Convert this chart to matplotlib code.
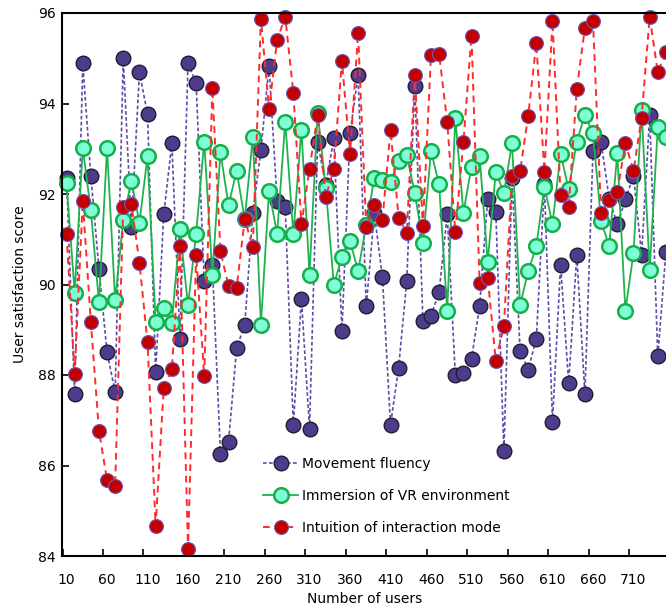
import matplotlib
matplotlib.use('Agg')
import matplotlib.pyplot as plt

plt.rcParams['font.family'] = 'DejaVu Sans'
plt.rcParams['font.size'] = 10

# number of users on each test round
users = list(range(10, 760, 10))

movement = [92.36, 87.57, 94.89, 92.40, 90.35, 88.50, 87.62, 95.00, 91.27, 94.69,
            93.76, 88.07, 91.55, 93.12, 88.80, 94.89, 94.45, 90.07, 90.44, 86.26,
            86.51, 88.60, 89.10, 91.59, 92.97, 94.83, 91.84, 91.71, 86.90, 89.68,
            86.81, 93.15, 92.19, 93.23, 88.97, 93.34, 94.63, 89.52, 91.57, 90.17,
            86.90, 88.16, 90.07, 94.39, 89.20, 89.31, 89.83, 91.55, 87.99, 88.05,
            88.36, 89.52, 91.90, 91.61, 86.31, 92.35, 88.54, 88.12, 88.80, 92.21,
            86.96, 90.44, 87.82, 90.66, 87.57, 92.95, 93.15, 91.90, 91.33, 91.88,
            92.40, 90.66, 93.74, 88.41, 90.72]

immersion = [92.25, 89.82, 93.01, 91.64, 89.61, 93.01, 89.65, 91.42, 92.29, 91.37,
             92.83, 89.17, 89.48, 89.15, 91.22, 89.54, 91.12, 93.16, 90.21, 92.92,
             91.75, 92.51, 91.44, 93.26, 89.11, 92.07, 91.12, 93.60, 91.11, 93.42,
             90.22, 93.80, 92.14, 90.00, 90.60, 90.96, 90.30, 91.31, 92.35, 92.31,
             92.27, 92.72, 92.86, 92.02, 90.92, 92.95, 92.21, 89.41, 93.69, 91.59,
             92.60, 92.84, 90.50, 92.49, 92.02, 93.12, 89.54, 90.30, 90.84, 92.16,
             91.34, 92.89, 92.10, 93.16, 93.75, 93.34, 91.40, 90.85, 92.90, 89.42,
             90.70, 93.85, 90.33, 93.48, 93.27]

intuition = [91.11, 88.02, 91.84, 89.17, 86.77, 85.68, 85.54, 91.72, 91.79, 90.48,
             88.72, 84.67, 87.71, 88.13, 90.85, 84.15, 90.66, 87.97, 94.34, 90.74,
             89.96, 89.93, 91.44, 90.83, 95.87, 93.87, 95.40, 95.92, 94.24, 91.33,
             92.56, 93.74, 91.94, 92.55, 94.94, 92.88, 95.56, 91.27, 91.75, 91.42,
             93.41, 91.48, 91.14, 94.63, 91.29, 95.08, 95.09, 93.59, 91.16, 93.15,
             95.50, 90.04, 90.15, 88.32, 89.08, 92.40, 92.51, 93.73, 95.33, 92.49,
             95.82, 91.97, 91.72, 94.32, 95.67, 95.82, 91.57, 91.87, 92.05, 93.12,
             92.51, 93.69, 95.92, 94.69, 95.14]

y_ticks = [84, 86, 88, 90, 92, 94, 96]

fig = plt.figure(figsize=(6.66, 6.12), dpi=100)
ax = fig.add_axes([62.5 / 666, 56 / 612, 605 / 666, 543 / 612])

pos = list(range(len(users)))

ax.plot(pos, movement, linestyle=(0, (2.2, 1.4)), color='#5e4ca6', lw=1.2,
        marker='o', ms=10.5, mfc='#4e3b8b', mec='#1f1d33', mew=1.0,
        label='Movement fluency', clip_on=False)
ax.plot(pos, immersion, linestyle='-', color='#1fb24e', lw=1.3,
        marker='o', ms=10.5, mfc='#7fffd6', mec='#14b04a', mew=1.8,
        label='Immersion of VR environment', clip_on=False)
ax.plot(pos, intuition, linestyle=(0, (3.5, 2.5)), color='#ff2b2b', lw=1.4,
        marker='o', ms=10, mfc='#c20000', mec='#6b5bbf', mew=0.8,
        label='Intuition of interaction mode', clip_on=False)

ax.set_xlim(-0.5, 74.2)
ax.set_ylim(84, 96)

# tick marks sit between categories, labels sit on every fifth category
bounds = [i - 0.5 for i in range(0, 75, 5)]
centers = list(range(0, 75, 5))
ax.set_xticks(bounds)
ax.set_xticklabels([])
ax.set_xticks(centers, minor=True)
ax.set_xticklabels([str(users[i]) for i in centers], minor=True)
ax.tick_params(axis='x', which='major', direction='in', length=5, width=1.2)
ax.tick_params(axis='x', which='minor', length=0, pad=12)

ax.set_yticks(y_ticks)
ax.tick_params(axis='y', direction='in', length=5, width=1.2, pad=5)

for side in ['left', 'bottom', 'top']:
    ax.spines[side].set_linewidth(1.5)
ax.spines['right'].set_visible(False)

ax.set_xlabel('Number of users', labelpad=4)
ax.set_ylabel('User satisfaction score', labelpad=8)

ax.legend(loc='upper left', bbox_to_anchor=(0.323, 0.193), frameon=False,
          handlelength=2.5, handletextpad=0.3, labelspacing=1.3,
          borderaxespad=0)

fig.savefig('out.png', dpi=100)
